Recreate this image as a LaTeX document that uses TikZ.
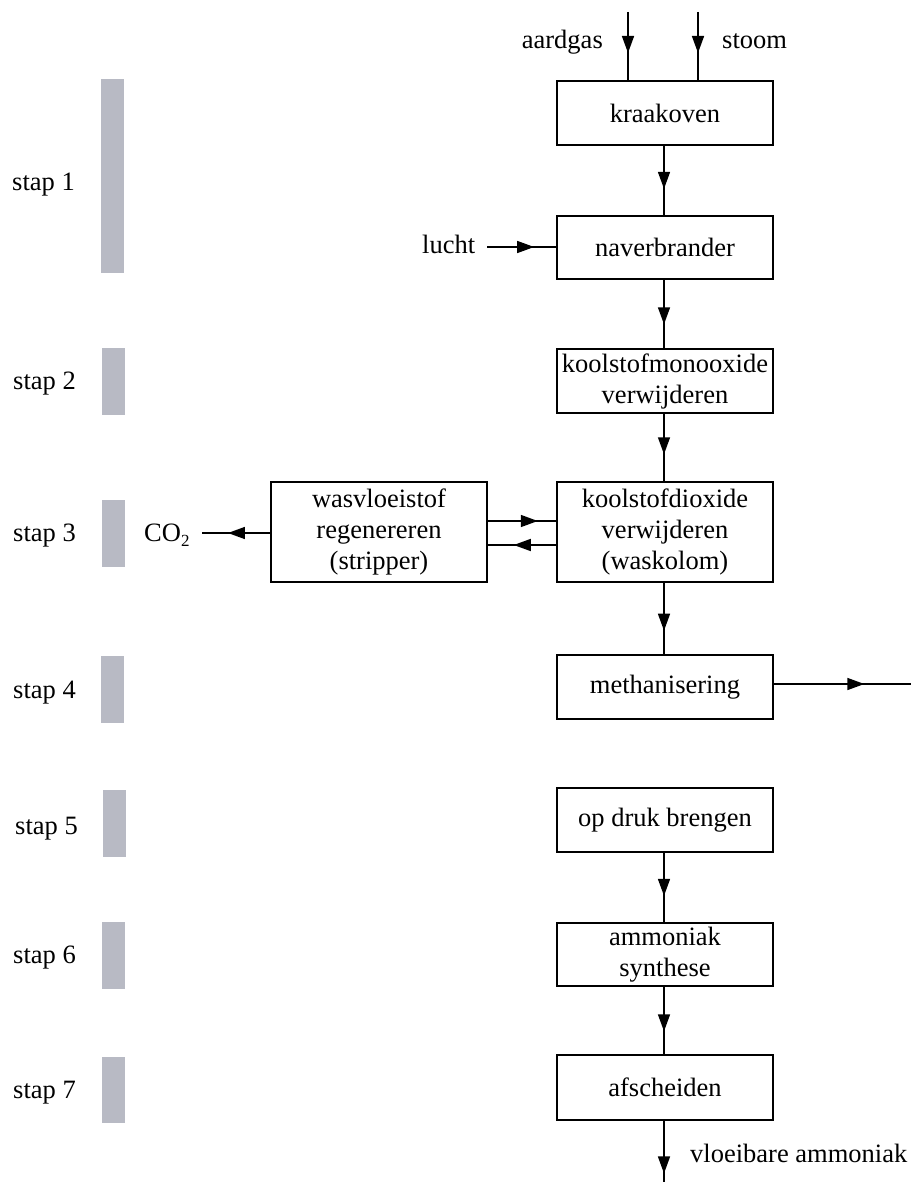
\documentclass[tikz,border=0pt]{standalone}
\usepackage{fontspec}
\setmainfont{Liberation Serif}
\usetikzlibrary{arrows.meta,decorations.markings}
\definecolor{bargray}{RGB}{184,186,196}
\tikzset{
  procbox/.style={draw=black,line width=1.4pt,minimum width=216pt,inner sep=0pt,align=center,font=\fontsize{26.5}{31}\selectfont},
  lbl/.style={inner sep=0pt,font=\fontsize{26.5}{31}\selectfont},
  flow/.style={line width=1.5pt,postaction={decorate},decoration={markings,mark=at position #1 with {\arrow{Triangle[length=17pt,width=12pt]}}}},
  flow/.default=0.6,
  bar/.style={fill=bargray,draw=none}
}
\begin{document}
\begin{tikzpicture}[x=1pt,y=-1pt]
\useasboundingbox (0,0) rectangle (911,1182);
% process boxes
\node[procbox,minimum height=64pt] (kraak) at (665,113) {kraakoven};
\node[procbox,minimum height=63pt] (naver) at (665,247.5) {naverbrander};
\node[procbox,minimum height=64pt] (mono) at (665,381) {koolstofmonooxide\\verwijderen};
\node[procbox,minimum height=100pt] (diox) at (665,532) {koolstofdioxide\\verwijderen\\(waskolom)};
\node[procbox,minimum height=64pt] (meth) at (665,687) {methanisering};
\node[procbox,minimum height=64pt] (druk) at (665,820) {op druk brengen};
\node[procbox,minimum height=63pt] (synth) at (665,954.5) {ammoniak\\synthese};
\node[procbox,minimum height=65pt] (afsch) at (665,1087.5) {afscheiden};
\node[procbox,minimum height=100pt] (strip) at (379,532) {wasvloeistof\\regenereren\\(stripper)};
% free ends
\coordinate (gasin) at (628,12);
\coordinate (stin) at (698,12);
\coordinate (luchtin) at (487,247);
\coordinate (co2out) at (202,533);
\coordinate (methout) at (911,684);
\coordinate (nh3out) at (664,1182);
% labels
\node[lbl,anchor=base east] (aardgas) at (603,49) {aardgas};
\node[lbl,anchor=base west] (stoom) at (722,49) {stoom};
\node[lbl,anchor=base west] (lucht) at (422,254) {lucht};
\node[lbl,anchor=base west] (co2) at (144,541) {CO\raisebox{-5pt}{\fontsize{17}{17}\selectfont 2}};
\node[lbl,anchor=base west] (vloei) at (690,1162) {vloeibare ammoniak};
% connectors
\draw[flow=0.6] (gasin) -- (gasin |- kraak.north);
\draw[flow=0.6] (stin) -- (stin |- kraak.north);
\draw[flow=0.62] (kraak.south -| nh3out) -- (naver.north -| nh3out);
\draw[flow=0.68] (luchtin) -- (luchtin -| naver.west);
\draw[flow=0.65] (naver.south -| nh3out) -- (mono.north -| nh3out);
\draw[flow=0.6] (mono.south -| nh3out) -- (diox.north -| nh3out);
\draw[flow=0.67] (diox.south -| nh3out) -- (meth.north -| nh3out);
\draw[flow=0.66] ([yshift=3pt]meth.east) -- (methout);
\draw[flow=0.62] (druk.south -| nh3out) -- (synth.north -| nh3out);
\draw[flow=0.66] (synth.south -| nh3out) -- (afsch.north -| nh3out);
\draw[flow=0.86] (afsch.south -| nh3out) -- (nh3out);
\draw[flow=0.73] ([yshift=11pt]strip.east) -- ([yshift=11pt]diox.west);
\draw[flow=0.62] ([yshift=-13pt]diox.west) -- ([yshift=-13pt]strip.east);
\draw[flow=0.62] ([yshift=-1pt]strip.west) -- (co2out);
% step bars and labels
\fill[bar] (101,79) rectangle (124,273);
\fill[bar] (102,348) rectangle (125,415);
\fill[bar] (102,500) rectangle (125,567);
\fill[bar] (101,656) rectangle (124,723);
\fill[bar] (103,790) rectangle (126,857);
\fill[bar] (102,922) rectangle (125,989);
\fill[bar] (102,1057) rectangle (125,1123);
\node[lbl,anchor=base west] (s1) at (12,191) {stap 1};
\node[lbl,anchor=base west] (s2) at (13,389) {stap 2};
\node[lbl,anchor=base west] (s3) at (13,541) {stap 3};
\node[lbl,anchor=base west] (s4) at (13,698) {stap 4};
\node[lbl,anchor=base west] (s5) at (15,834) {stap 5};
\node[lbl,anchor=base west] (s6) at (13,963) {stap 6};
\node[lbl,anchor=base west] (s7) at (13,1098) {stap 7};
\end{tikzpicture}
\end{document}
